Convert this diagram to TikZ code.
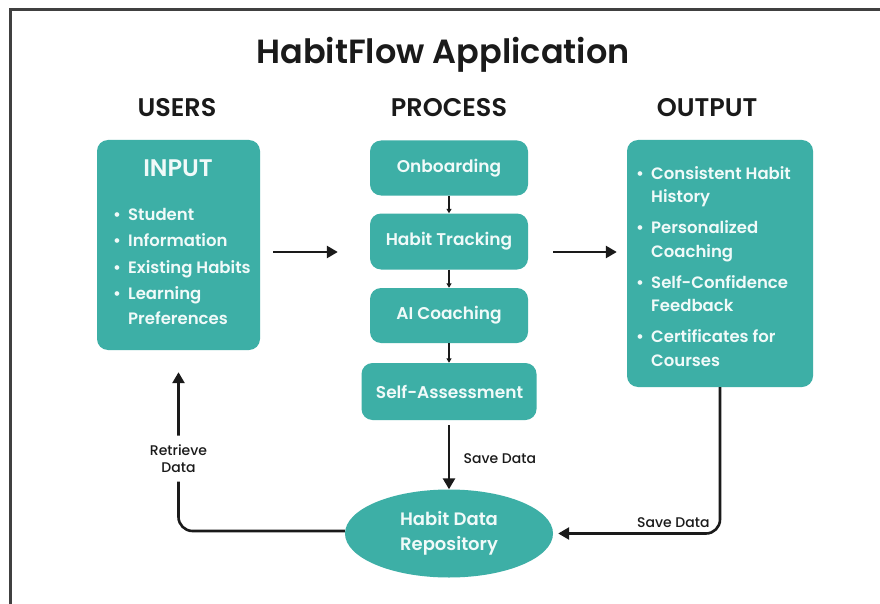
\documentclass[tikz,border=0pt]{standalone}
\usepackage{fontspec}
\setmainfont{Poppins Medium}[BoldFont={Poppins SemiBold}]
\usetikzlibrary{arrows.meta,shapes.geometric}

\definecolor{teal1}{RGB}{61,175,166}
\definecolor{ink}{RGB}{26,26,26}
\definecolor{paper}{RGB}{240,250,249}

\tikzset{
  box/.style={draw=none, fill=teal1, rounded corners=11pt, inner sep=0pt},
  repo/.style={ellipse, draw=none, fill=teal1, inner sep=0pt},
  boxtext/.style={text=paper, font=\bfseries\fontsize{17}{20}\selectfont},
  heading/.style={text=ink, font=\bfseries\fontsize{25.5}{30}\selectfont},
  listtext/.style={text=paper, align=left, anchor=north west, inner sep=0pt},
  bigarrow/.style={draw=ink, line width=2.6pt, -{Triangle[length=11pt,width=12pt]}},
  smallarrow/.style={draw=ink, line width=1.5pt, -{Triangle[length=4.5pt,width=5pt]}},
  flowlabel/.style={text=ink, font=\fontsize{14}{17}\selectfont},
}

\begin{document}
\begin{tikzpicture}[x=1pt, y=-1pt]
\useasboundingbox (0,0) rectangle (880,604);
\fill[white] (0,0) rectangle (880,604);

% frame edges
\draw[line width=3pt, black!75, line cap=rect] (10,604) -- (10,9.5) -- (880,9.5);

% title and column headings
\node[text=ink, font=\bfseries\fontsize{33.5}{38}\selectfont] (title) at (443,55) {HabitFlow Application};
\node[heading] (hUsers) at (177,108) {USERS};
\node[heading] (hProc) at (449,108) {PROCESS};
\node[heading] (hOut) at (707,108) {OUTPUT};

% input box
\node[box, minimum width=163pt, minimum height=210pt] (input) at (178.5,245) {};
\node[text=paper, font=\bfseries\fontsize{24}{28}\selectfont] (inTitle) at (178,168) {INPUT};
\node[listtext, font=\bfseries\fontsize{16.5}{24.5}\selectfont] (inList) at (113,208)
  {\makebox[15pt][l]{\textbullet}Student\\[2pt]
   \makebox[15pt][l]{\textbullet}Information\\[2pt]
   \makebox[15pt][l]{\textbullet}Existing Habits\\[2pt]
   \makebox[15pt][l]{\textbullet}Learning\\
   \makebox[15pt][l]{}Preferences};

% process column
\node[box, minimum width=158pt, minimum height=55pt] (onb) at (449,168) {};
\node[boxtext] (onbT) at (449,168) {Onboarding};
\node[box, minimum width=158pt, minimum height=56pt] (track) at (449,241.5) {};
\node[boxtext] (trackT) at (449,241.5) {Habit Tracking};
\node[box, minimum width=158pt, minimum height=55pt] (coach) at (449,315.5) {};
\node[boxtext] (coachT) at (449,315.5) {AI Coaching};
\node[box, minimum width=175pt, minimum height=57pt] (self) at (449,391.5) {};
\node[boxtext] (selfT) at (449.5,391.5) {Self-Assessment};

\draw[smallarrow] (onb.south) -- (track.north);
\draw[smallarrow] (track.south) -- (coach.north);
\draw[smallarrow] (coach.south) -- (self.north);

% output box
\node[box, minimum width=186pt, minimum height=247pt] (output) at (720,263.5) {};
\node[listtext, font=\bfseries\fontsize{16.5}{23.5}\selectfont] (outList) at (636,166)
  {\makebox[15pt][l]{\textbullet}Consistent Habit\\
   \makebox[15pt][l]{}History\\[7.5pt]
   \makebox[15pt][l]{\textbullet}Personalized\\
   \makebox[15pt][l]{}Coaching\\[7.5pt]
   \makebox[15pt][l]{\textbullet}Self-Confidence\\
   \makebox[15pt][l]{}Feedback\\[7.5pt]
   \makebox[15pt][l]{\textbullet}Certificates for\\
   \makebox[15pt][l]{}Courses};

% data repository
\node[repo, minimum width=208pt, minimum height=88pt] (store) at (449,533.5) {};
\node[text=paper, align=center, font=\bfseries\fontsize{18}{25}\selectfont] (storeT) at (449,533.5) {Habit Data\\Repository};

% main flow
\draw[bigarrow, shorten <=13pt, shorten >=32pt] (input.east |- 0,252) -- (track.west |- 0,252);
\draw[bigarrow, shorten <=25pt, shorten >=10pt] (track.east |- 0,252) -- (output.west |- 0,252);

% data storage and retrieval
\draw[bigarrow, shorten <=5pt] (self.south) -- node[flowlabel, right=10pt, pos=0.56] (saveA) {Save Data} (store.north);
\draw[bigarrow, rounded corners=14pt, shorten >=5pt] (output.south) |- node[flowlabel, above, pos=0.64, inner sep=5pt] (saveB) {Save Data} (store.east);
\draw[bigarrow, rounded corners=14pt, shorten >=22pt] (store.west |- 0,531) -| node[flowlabel, pos=0.70, fill=white, align=center, inner sep=9pt] (getC) {Retrieve\\Data} (input.south);
\end{tikzpicture}
\end{document}
